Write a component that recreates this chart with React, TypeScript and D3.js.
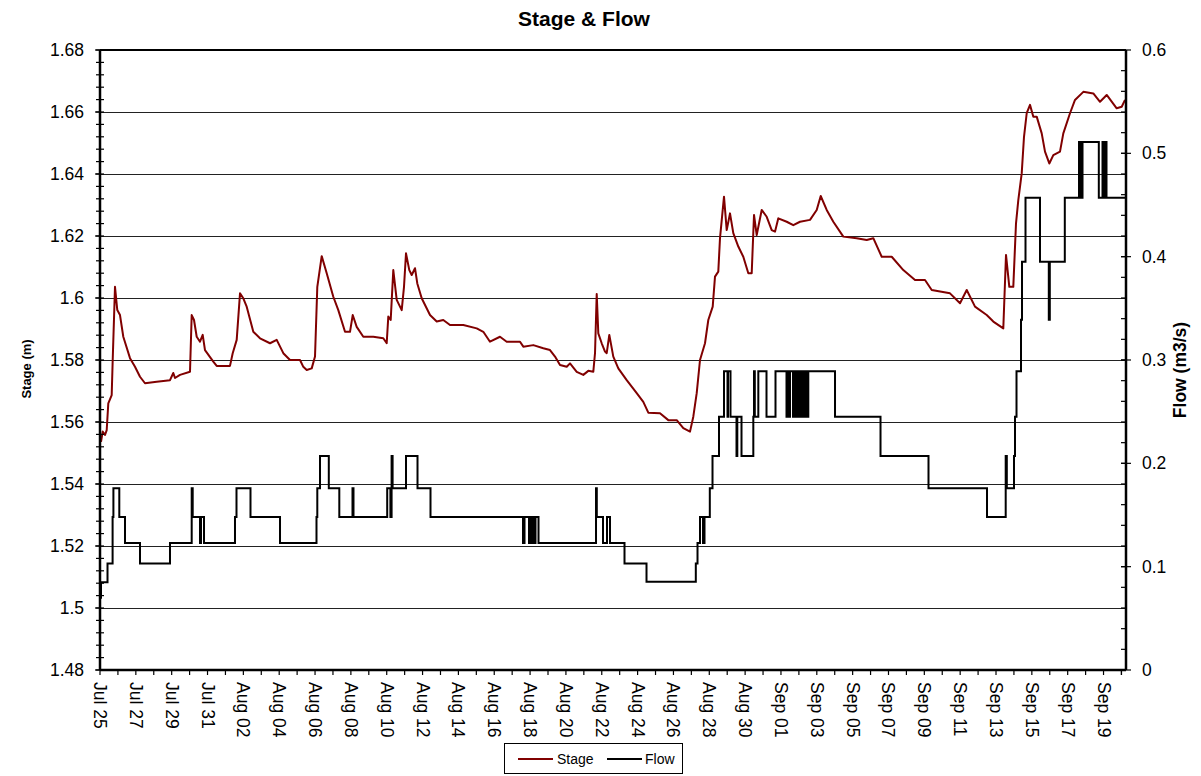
import React from 'react';
import * as d3 from 'd3';

// time is kept as days since Jul 25 00:00
const START = Date.UTC(2010, 6, 25);
const DAY = 86400000;
const END_DAY = 57.254;

const stageDays = [
  0.056, 0.151, 0.279, 0.374, 0.463, 0.653, 0.709, 0.837, 0.965, 1.116, 1.3, 1.674, 1.953, 2.232, 2.511,
  3.164, 3.906, 4.09, 4.185, 4.464, 5.022, 5.117, 5.246, 5.396, 5.58, 5.731, 5.859, 6.323, 6.512, 7.254,
  7.405, 7.628, 7.813, 7.997, 8.186, 8.555, 8.929, 9.487, 9.861, 10.229, 10.603, 11.161, 11.345, 11.535,
  11.814, 11.998, 12.126, 12.372, 12.651, 13.019, 13.298, 13.672, 13.951, 14.102, 14.325, 14.693, 15.251,
  15.809, 15.999, 16.088, 16.222, 16.367, 16.557, 16.836, 16.964, 17.076, 17.26, 17.394, 17.578, 17.706,
  17.952, 18.415, 18.789, 19.157, 19.531, 20.273, 21.021, 21.39, 21.763, 22.321, 22.695, 23.438, 23.622,
  24.18, 24.738, 25.112, 25.391, 25.67, 26.044, 26.228, 26.602, 26.97, 27.249, 27.528, 27.623, 27.718,
  27.807, 27.997, 28.181, 28.276, 28.421, 28.644, 28.923, 29.392, 29.95, 30.318, 30.597, 31.25, 31.713,
  32.182, 32.55, 32.924, 33.108, 33.298, 33.482, 33.761, 33.945, 34.191, 34.319, 34.503, 34.598, 34.821,
  34.972, 35.156, 35.34, 35.619, 35.898, 36.178, 36.367, 36.496, 36.646, 36.925, 37.204, 37.483, 37.667,
  37.852, 38.32, 38.689, 39.063, 39.621, 39.994, 40.218, 40.552, 40.921, 41.479, 42.227, 42.785, 43.153,
  43.622, 44.18, 44.827, 45.48, 46.038, 46.412, 47.433, 47.991, 48.365, 48.828, 49.481, 49.849, 50.407,
  50.558, 50.742, 50.965, 51.116, 51.244, 51.434, 51.562, 51.713, 51.897, 52.082, 52.271, 52.55, 52.734,
  52.974, 53.198, 53.571, 53.756, 54.129, 54.408, 54.872, 55.43, 55.804, 56.177, 56.735, 57.015, 57.199,
];
const stageValues = [
  1.5536, 1.5569, 1.5558, 1.5574, 1.566, 1.5687, 1.58, 1.6036, 1.5961, 1.5945, 1.5875, 1.5806, 1.5778, 1.5746, 1.5725,
  1.573, 1.5735, 1.5758, 1.5742, 1.5752, 1.5762, 1.5945, 1.5929, 1.5875, 1.5859, 1.5881, 1.5832, 1.5795, 1.5781, 1.5781,
  1.5822, 1.5865, 1.6015, 1.5999, 1.5972, 1.5891, 1.587, 1.5854, 1.5865, 1.5822, 1.58, 1.58, 1.5778, 1.5768,
  1.5773, 1.5811, 1.6036, 1.6135, 1.608, 1.6004, 1.5961, 1.5891, 1.5891, 1.5945, 1.5907, 1.5875, 1.5875,
  1.587, 1.5854, 1.594, 1.5929, 1.609, 1.5994, 1.5961, 1.6036, 1.6144, 1.609, 1.6074, 1.6096, 1.6047,
  1.5999, 1.5945, 1.5924, 1.5929, 1.5913, 1.5913, 1.5902, 1.5891, 1.5859, 1.5875, 1.5859, 1.5859, 1.5843,
  1.5848, 1.5838, 1.5832, 1.5811, 1.5784, 1.5778, 1.5789, 1.5762, 1.5752, 1.5765, 1.5762, 1.5822, 1.6013,
  1.5886, 1.5854, 1.5827, 1.5822, 1.5881, 1.5811, 1.5773, 1.5735, 1.5693, 1.5665, 1.563, 1.5628, 1.5606,
  1.5606, 1.558, 1.5569, 1.5617, 1.5693, 1.58, 1.5854, 1.5929, 1.5972, 1.6069, 1.6085, 1.6193, 1.6327,
  1.6219, 1.6273, 1.6209, 1.6166, 1.6133, 1.608, 1.608, 1.6268, 1.6203, 1.6284, 1.6262, 1.6219, 1.6214,
  1.6257, 1.6246, 1.6235, 1.6246, 1.6252, 1.6284, 1.6329, 1.6284, 1.6246, 1.6198, 1.6193, 1.6187, 1.6193,
  1.6133, 1.6133, 1.609, 1.6058, 1.6058, 1.6026, 1.6015, 1.5983, 1.6026, 1.5972, 1.5945, 1.5924, 1.5902,
  1.6139, 1.6036, 1.6036, 1.6241, 1.6316, 1.6402, 1.652, 1.6596, 1.6623, 1.6585, 1.6585, 1.6531, 1.6472,
  1.6434, 1.6461, 1.6472, 1.6531, 1.6596, 1.6639, 1.6665, 1.666, 1.6633, 1.6655, 1.6612, 1.6617, 1.6639,
];

// flow changes level at these days (held until the next change)
const flowDays = [
  0, 0.056, 0.419, 0.703, 0.748, 1.077, 1.395, 2.232, 3.906, 5.117, 5.173, 5.58, 5.636, 5.804, 7.533, 7.617,
  8.398, 10.045, 12.081, 12.126, 12.277, 12.768, 13.354, 14.09, 14.146, 16.027, 16.205, 16.272, 16.328,
  17.076, 17.718, 18.443, 23.605, 23.689, 23.94, 23.996, 24.079, 24.135, 24.219, 24.302, 24.47, 27.679,
  27.723, 28.069, 28.292, 28.46, 29.269, 30.497, 33.248, 33.343, 33.482, 33.65, 33.733, 34.029, 34.18,
  34.542, 34.821, 35.017, 35.045, 35.184, 35.519, 35.564, 35.798, 36.457, 36.496, 36.54, 36.736, 37.193,
  37.695, 38.309, 38.365, 38.421, 38.504, 38.672, 38.728, 38.783, 38.839, 38.895, 38.951, 39.007, 39.063,
  39.118, 39.174, 39.23, 39.286, 39.342, 39.425, 39.481, 39.526, 41.016, 43.555, 46.233, 49.498, 50.541,
  50.603, 51.004, 51.06, 51.144, 51.395, 51.451, 51.646, 52.455, 52.946, 53.002, 53.839, 54.632, 54.743,
  54.827, 55.737, 55.943, 55.999, 56.1, 56.166, 57.254,
];
const flowValues = [
  0.07, 0.085, 0.103, 0.148, 0.176, 0.148, 0.123, 0.103, 0.123, 0.176, 0.148, 0.123, 0.148, 0.123, 0.148, 0.176,
  0.148, 0.123, 0.148, 0.176, 0.207, 0.176, 0.148, 0.176, 0.148, 0.176, 0.148, 0.207, 0.176,
  0.207, 0.176, 0.148, 0.123, 0.148, 0.123, 0.148, 0.123, 0.148, 0.123, 0.148, 0.123, 0.176,
  0.148, 0.123, 0.148, 0.123, 0.103, 0.0855, 0.103, 0.123, 0.148, 0.123, 0.148, 0.176, 0.207,
  0.245, 0.289, 0.245, 0.289, 0.245, 0.207, 0.245, 0.207, 0.245, 0.289, 0.245, 0.289, 0.245,
  0.289, 0.245, 0.289, 0.245, 0.289, 0.245, 0.289, 0.245, 0.289, 0.245, 0.289, 0.245, 0.289,
  0.245, 0.289, 0.245, 0.289, 0.245, 0.289, 0.245, 0.289, 0.245, 0.207, 0.176, 0.148, 0.207,
  0.176, 0.207, 0.245, 0.289, 0.339, 0.395, 0.457, 0.395, 0.339, 0.395, 0.457, 0.511, 0.457,
  0.511, 0.457, 0.511, 0.457, 0.511, 0.457, 0.457,
];

const stageTicks = [1.48, 1.5, 1.52, 1.54, 1.56, 1.58, 1.6, 1.62, 1.64, 1.66, 1.68];
const flowTicks = [0, 0.1, 0.2, 0.3, 0.4, 0.5, 0.6];

const W = 1201;
const H = 776;
const margin = { top: 50, right: 75, bottom: 106, left: 100 };
const FONT = "'Liberation Sans', Arial, sans-serif";

const toDate = (d: number) => new Date(START + d * DAY);

export default function App() {
  const x = d3.scaleUtc().domain([toDate(0), toDate(END_DAY)]).range([margin.left, W - margin.right]);
  const yStage = d3.scaleLinear().domain([1.48, 1.68]).range([H - margin.bottom, margin.top]);
  const yFlow = d3.scaleLinear().domain([0, 0.6]).range([H - margin.bottom, margin.top]);

  const x0 = margin.left;
  const x1 = W - margin.right;
  const y0 = H - margin.bottom;
  const y1 = margin.top;

  const stageLine = d3.line<number>()
    .x((d, i) => x(toDate(stageDays[i])))
    .y(d => yStage(d));
  const flowLine = d3.line<number>()
    .x((d, i) => x(toDate(flowDays[i])))
    .y(d => yFlow(d))
    .curve(d3.curveStepAfter);

  const days = d3.utcDay.range(toDate(0), toDate(END_DAY));
  const labelDays = days.filter((d, i) => i % 2 === 0);
  const fmt = d3.utcFormat('%b %d');

  const stageMinor = d3.range(0, 51).map(i => 1.48 + i * 0.004);
  const flowMinor = d3.range(0, 31).map(i => i * 0.02);

  return (
    <svg width={W} height={H} style={{ position: 'absolute', left: 0, top: 0, background: '#fff' }} fontFamily={FONT}>
      <rect x={0} y={0} width={W} height={H} fill="#fff" />

      {/* gridlines */}
      {stageTicks.slice(1, -1).map(t => (
        <line key={'g' + t} x1={x0} x2={x1} y1={Math.round(yStage(t)) + 0.5} y2={Math.round(yStage(t)) + 0.5}
          stroke="#222" strokeWidth={1} />
      ))}

      {/* series */}
      <path d={flowLine(flowValues) || ''} fill="none" stroke="#000" strokeWidth={2} />
      <path d={stageLine(stageValues) || ''} fill="none" stroke="#800000" strokeWidth={2} strokeLinejoin="round" />

      {/* frame */}
      <line x1={x0} x2={x1} y1={y1} y2={y1} stroke="#000" strokeWidth={2} />
      <line x1={x0} x2={x1} y1={y0} y2={y0} stroke="#000" strokeWidth={2.5} />
      <line x1={x0} x2={x0} y1={y1} y2={y0} stroke="#000" strokeWidth={2.5} />
      <line x1={x1} x2={x1} y1={y1} y2={y0} stroke="#000" strokeWidth={2.5} />

      {/* left axis */}
      {stageMinor.map((t, i) => (
        <line key={'lm' + i} x1={x0 - 4} x2={x0 + 4} y1={yStage(t)} y2={yStage(t)} stroke="#000" strokeWidth={1.2} />
      ))}
      {stageTicks.map(t => (
        <g key={'lt' + t}>
          <line x1={x0 - 5} x2={x0} y1={yStage(t)} y2={yStage(t)} stroke="#000" strokeWidth={1.2} />
          <text x={84} y={yStage(t)} textAnchor="end" dominantBaseline="central" fontSize={17.5} fill="#000">
            {d3.format('')(+t.toFixed(2))}
          </text>
        </g>
      ))}

      {/* right axis */}
      {flowMinor.map((t, i) => (
        <line key={'rm' + i} x1={x1 - 5} x2={x1} y1={yFlow(t)} y2={yFlow(t)} stroke="#000" strokeWidth={1.2} />
      ))}
      {flowTicks.map(t => (
        <g key={'rt' + t}>
          <line x1={x1 - 5} x2={x1 + 5} y1={yFlow(t)} y2={yFlow(t)} stroke="#000" strokeWidth={1.2} />
          <text x={1142} y={yFlow(t)} textAnchor="start" dominantBaseline="central" fontSize={17.5} fill="#000">
            {d3.format('')(+t.toFixed(1))}
          </text>
        </g>
      ))}

      {/* bottom axis */}
      {days.concat([toDate(57)]).map((d, i) => (
        <line key={'bt' + i} x1={x(d)} x2={x(d)} y1={y0} y2={y0 + 5} stroke="#000" strokeWidth={1.2} />
      ))}
      {labelDays.map((d, i) => (
        <text key={'bl' + i} transform={`translate(${x(d)},682) rotate(90)`} textAnchor="start"
          dominantBaseline="central" fontSize={17.5} fill="#000">
          {fmt(d)}
        </text>
      ))}

      {/* titles */}
      <text x={584} y={26} textAnchor="middle" fontSize={21} fontWeight="bold" fill="#000">Stage &amp; Flow</text>
      <text transform="translate(31,369) rotate(-90)" textAnchor="middle" fontSize={13} fontWeight="bold" fill="#000">
        Stage (m)
      </text>
      <text transform="translate(1186,370) rotate(-90)" textAnchor="middle" fontSize={17.5} fontWeight="bold" fill="#000">
        Flow (m3/s)
      </text>

      {/* legend */}
      <g>
        <rect x={504.5} y={743.5} width={178} height={30} fill="#fff" stroke="#000" strokeWidth={1} />
        <line x1={518} x2={553} y1={759} y2={759} stroke="#800000" strokeWidth={2} />
        <text x={557} y={759} dominantBaseline="central" fontSize={14} fill="#000">Stage</text>
        <line x1={607} x2={642} y1={759} y2={759} stroke="#000" strokeWidth={2} />
        <text x={645} y={759} dominantBaseline="central" fontSize={14} fill="#000">Flow</text>
      </g>
    </svg>
  );
}
